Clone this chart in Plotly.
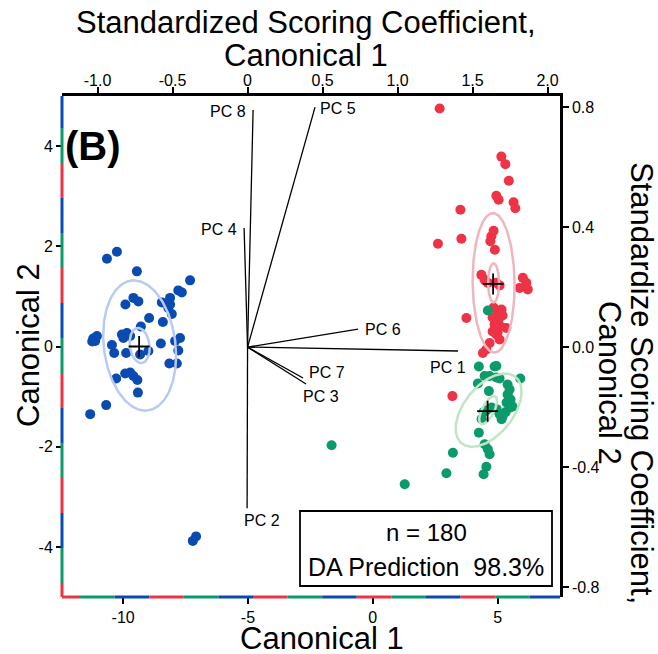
import numpy as np
import plotly.graph_objects as go

# ---------------- data ----------------
blue_x = [-10.65, -10.25, -9.45, -7.32, -7.79, -7.65, -9.59, -9.39, -9.91, -8.45, -8.12, -8.12,
          -8.19, -8.05, -8.96, -8.41, -9.29, -11.20, -11.05, -11.12, -11.24, -10.05, -9.85, -9.99,
          -9.72, -10.45, -10.36, -9.88, -9.32, -8.99, -8.49, -7.72, -7.92, -7.79, -8.15, -7.85,
          -9.92, -9.72, -9.59, -9.43, -10.28, -9.41, -10.68, -11.32, -7.21, -7.08]
blue_y = [1.75, 1.89, 1.50, 1.32, 1.12, 1.08, 0.97, 0.90, 0.84, 0.88, 0.97, 0.84,
          0.77, 0.65, 0.57, 0.49, 0.40, 0.16, 0.21, 0.11, 0.10, 0.24, 0.27, 0.17,
          0.21, 0.03, -0.13, -0.13, -0.16, -0.09, 0.06, 0.17, 0.11, -0.08, -0.34, -0.34,
          -0.54, -0.52, -0.59, -0.67, -0.64, -0.92, -1.17, -1.35, -3.88, -3.79]

red_x = [2.68, 5.15, 5.31, 5.45, 4.95, 5.04, 5.64, 5.71, 3.51, 3.55, 2.61, 4.84, 4.75, 4.71,
         4.89, 4.35, 4.48, 4.61, 4.95, 5.08, 6.01, 6.15, 5.88, 6.21, 3.75, 4.84, 5.00, 5.16,
         4.80, 5.04, 5.20, 4.88, 5.12, 5.35, 4.80, 5.00, 4.95, 5.08, 4.68, 4.55, 4.41, 3.19]
red_y = [4.75, 3.79, 3.64, 3.31, 3.01, 2.93, 2.88, 2.76, 2.73, 2.15, 2.05, 2.31, 2.20, 2.10,
         1.93, 1.43, 1.33, 1.27, 1.27, 1.22, 1.37, 1.27, 1.17, 1.14, 0.57, 0.78, 0.70, 0.74,
         0.58, 0.54, 0.62, 0.44, 0.40, 0.37, 0.30, 0.28, 0.24, 0.14, 0.07, -0.06, -0.13, -0.99]

green_x = [4.25, 4.88, 4.48, 4.68, 4.95, 5.08, 4.21, 5.91, 5.40, 5.48, 5.40, 5.52, 5.36, 5.48,
           5.32, 5.20, 5.60, 4.65, 4.44, 4.56, 4.76, 4.96, 5.08, 5.16, 4.36, 4.25, 4.48, 4.61,
           4.68, 3.21, 2.95, 4.55, 4.44, 1.28, -1.65, 4.61, 4.95]
green_y = [-0.40, -0.40, -0.59, -0.59, -0.62, -0.64, -0.74, -0.64, -0.76, -0.86, -0.96, -1.06,
           -1.12, -1.22, -1.31, -1.39, -1.20, -0.89, -1.31, -1.27, -1.22, -1.25, -1.35, -1.45,
           -1.45, -1.72, -1.95, -2.05, -2.15, -2.12, -2.53, -2.40, -2.55, -2.75, -1.97, 0.72, -0.39]

centroid_x = [-9.36, 4.82, 4.60]
centroid_y = [0.00, 1.25, -1.29]

# confidence ellipses: centre, half-width, half-height, phase (deg)  [outer, inner]
ell_blue = [(-9.34, 0.02, 1.46, 1.30, 99), (-9.34, 0.02, 0.40, 0.35, 99)]
ell_red = [(4.84, 1.27, 0.84, 1.39, 92), (4.84, 1.27, 0.22, 0.39, 90)]
ell_green = [(4.64, -1.27, 1.32, 0.73, 60), (4.62, -1.27, 0.36, 0.28, 48)]

# standardized scoring coefficients (loadings)
pc_labels = ["PC 1", "PC 2", "PC 3", "PC 4", "PC 5", "PC 6", "PC 7", "PC 8"]
pc_x = [1.403, -0.003, 0.39, -0.023, 0.45, 0.737, 0.37, 0.037]
pc_y = [-0.013, -0.537, -0.123, 0.397, 0.80, 0.06, -0.103, 0.79]

x_ticks = [-10, -5, 0, 5]
y_ticks = [-4, -2, 0, 2, 4]
x2_ticks = [-1.0, -0.5, 0, 0.5, 1.0, 1.5, 2.0]
x2_ticktext = ["-1.0", "-0.5", "0", "0.5", "1.0", "1.5", "2.0"]
y2_ticks = [-0.8, -0.4, 0.0, 0.4, 0.8]
y2_ticktext = ["-0.8", "-0.4", "0.0", "0.4", "0.8"]

# ---------------- style ----------------
BLUE, RED, GREEN = "#0a4bb2", "#ee3346", "#0b9a6a"
BLUE_L, RED_L, GREEN_L = "#b9cbf2", "#efb6bd", "#bfe5c5"
FONT = "Liberation Sans, Arial, sans-serif"
W, H = 658, 654
ML, MR, MT, MB = 62, 98, 96, 57
PW, PH = W - ML - MR, H - MT - MB
TITLE_SIZE = 31

# label offsets (xanchor, xshift, yshift)
pc_label_style = {
    "PC 1": ("right", 10, -16), "PC 2": ("left", -5, -12), "PC 3": ("left", -5, -12),
    "PC 4": ("right", -5, -1), "PC 5": ("left", 3, -1), "PC 6": ("left", 5, 0),
    "PC 7": ("left", 4, 6), "PC 8": ("right", -5, -1),
}

fig = go.Figure()

t = np.linspace(0, 2 * np.pi, 200)


def ellipse(p):
    cx, cy, a, b, ph = p
    return cx + a * np.cos(t), cy + b * np.cos(t - np.radians(ph))


# loading vectors (top/right axes)
lx, ly = [], []
for vx, vy in zip(pc_x, pc_y):
    lx += [0, vx, None]
    ly += [0, vy, None]
fig.add_trace(go.Scatter(x=lx, y=ly, xaxis="x2", yaxis="y2", mode="lines",
                         line=dict(color="black", width=1.3), hoverinfo="skip"))

for xs, ys, c in [(blue_x, blue_y, BLUE), (red_x, red_y, RED), (green_x, green_y, GREEN)]:
    fig.add_trace(go.Scatter(x=xs, y=ys, mode="markers",
                             marker=dict(color=c, size=10, line=dict(width=0))))

for ells, c in [(ell_blue, BLUE_L), (ell_red, RED_L), (ell_green, GREEN_L)]:
    for p in ells:
        ex, ey = ellipse(p)
        fig.add_trace(go.Scatter(x=ex, y=ey, mode="lines",
                                 line=dict(color=c, width=2.5), hoverinfo="skip"))

fig.add_trace(go.Scatter(x=centroid_x, y=centroid_y, mode="markers",
                         marker=dict(symbol="cross-thin", size=15,
                                     line=dict(color="black", width=1.8))))

annotations = []
for lab, vx, vy in zip(pc_labels, pc_x, pc_y):
    xa, xs, ys = pc_label_style[lab]
    annotations.append(dict(x=vx, y=vy, xref="x2", yref="y2", text=lab, showarrow=False,
                            xanchor=xa, yanchor="middle", xshift=xs, yshift=ys,
                            font=dict(size=16, color="black", family=FONT)))


def px(xp):
    return (xp - ML) / PW


def py(yp):
    return (H - MB - yp) / PH


annotations += [
    dict(text="<b>(B)</b>", x=px(63), y=py(146), xref="paper", yref="paper", showarrow=False,
         xanchor="left", yanchor="middle", font=dict(size=40, family=FONT, color="black")),
    dict(text="n = 180", x=px(426), y=py(532), xref="paper", yref="paper", showarrow=False,
         xanchor="center", yanchor="middle", font=dict(size=24, family=FONT, color="black")),
    dict(text="DA Prediction\u00a0\u00a098.3%", x=px(426), y=py(567), xref="paper", yref="paper",
         showarrow=False, xanchor="center", yanchor="middle",
         font=dict(size=25, family=FONT, color="black")),
    dict(text="Standardized Scoring Coefficient,", x=px(306), y=py(22), xref="paper", yref="paper",
         showarrow=False, xanchor="center", yanchor="middle",
         font=dict(size=TITLE_SIZE, family=FONT, color="black")),
    dict(text="Canonical 1", x=px(306), y=py(55), xref="paper", yref="paper",
         showarrow=False, xanchor="center", yanchor="middle",
         font=dict(size=TITLE_SIZE, family=FONT, color="black")),
    dict(text="Canonical 1", x=px(322), y=py(638), xref="paper", yref="paper",
         showarrow=False, xanchor="center", yanchor="middle",
         font=dict(size=TITLE_SIZE, family=FONT, color="black")),
    dict(text="Canonical 2", x=px(28), y=py(345), xref="paper", yref="paper",
         showarrow=False, xanchor="center", yanchor="middle", textangle=-90,
         font=dict(size=TITLE_SIZE, family=FONT, color="black")),
    dict(text="Standardize Scoring Coefficient,", x=px(642), y=py(383), xref="paper", yref="paper",
         showarrow=False, xanchor="center", yanchor="middle", textangle=90,
         font=dict(size=TITLE_SIZE, family=FONT, color="black")),
    dict(text="Canonical 2", x=px(610), y=py(383), xref="paper", yref="paper",
         showarrow=False, xanchor="center", yanchor="middle", textangle=90,
         font=dict(size=TITLE_SIZE, family=FONT, color="black")),
]

shapes = [dict(type="rect", xref="paper", yref="paper", x0=px(300), x1=px(552),
               y0=py(586), y1=py(511), line=dict(color="black", width=1.8),
               fillcolor="rgba(0,0,0,0)", layer="above")]

# tricolour left axis
cols_left = [BLUE, GREEN, RED]
seg = 35.0
k = 0
y0 = 93.0
while y0 < H - MB:
    a, b = max(y0, MT), min(y0 + seg, H - MB)
    shapes.append(dict(type="line", xref="paper", yref="paper", x0=0, x1=0, y0=py(a), y1=py(b),
                       line=dict(color=cols_left[k % 3], width=3), layer="above"))
    y0 += seg
    k += 1

# tricolour bottom axis
cols_bot = [RED, GREEN, BLUE]
seg = 34.6
k = 0
x0 = 45.4
while x0 < W - MR:
    a, b = max(x0, ML), min(x0 + seg, W - MR)
    shapes.append(dict(type="line", xref="paper", yref="paper", x0=px(a), x1=px(b), y0=0, y1=0,
                       line=dict(color=cols_bot[k % 3], width=3), layer="above"))
    x0 += seg
    k += 1

tickfont = dict(size=16, family=FONT, color="black")
fig.update_layout(
    width=W, height=H, margin=dict(l=ML, r=MR, t=MT, b=MB),
    paper_bgcolor="white", plot_bgcolor="white", showlegend=False,
    xaxis=dict(range=[-12.45, 7.5], tickvals=x_ticks, ticktext=[str(v) for v in x_ticks],
               ticks="outside", ticklen=6, tickwidth=2, tickcolor="black", showline=False,
               showgrid=False, zeroline=False, tickfont=tickfont),
    yaxis=dict(range=[-5, 5], tickvals=y_ticks, ticktext=[str(v) for v in y_ticks],
               ticks="outside", ticklen=5, tickwidth=2, tickcolor="black", showline=False,
               showgrid=False, zeroline=False, tickfont=tickfont),
    xaxis2=dict(range=[-1.237, 2.083], overlaying="x", side="top", anchor="y",
                tickvals=x2_ticks, ticktext=x2_ticktext, ticks="outside", ticklen=6,
                tickwidth=2, tickcolor="black", showline=True, linecolor="black", linewidth=2.5,
                showgrid=False, zeroline=False, tickfont=tickfont, ticklabelstandoff=-5),
    yaxis2=dict(range=[-0.833, 0.837], overlaying="y", side="right", anchor="x",
                tickvals=y2_ticks, ticktext=y2_ticktext, ticks="outside", ticklen=6,
                tickwidth=2, tickcolor="black", showline=True, linecolor="black", linewidth=2.5,
                showgrid=False, zeroline=False, tickfont=tickfont),
    annotations=annotations, shapes=shapes,
)

fig.write_html("out.html", config={"displayModeBar": False},
               post_script="document.body.style.margin='0';document.body.style.overflow='hidden';")
